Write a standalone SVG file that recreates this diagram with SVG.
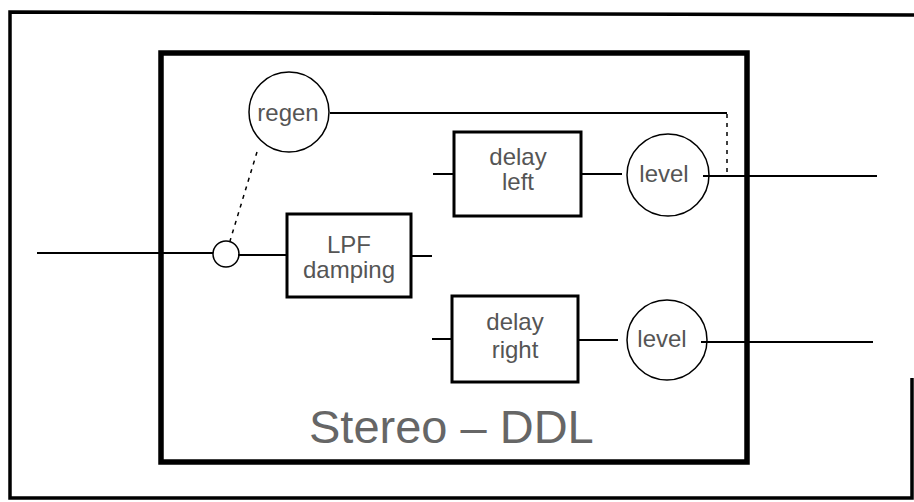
<svg xmlns="http://www.w3.org/2000/svg" width="914" height="502" viewBox="0 0 914 502">
<style>
.box{fill:none;stroke:#000;stroke-width:3}
.circ{fill:none;stroke:#000;stroke-width:1.5}
.wire{fill:none;stroke:#000;stroke-width:2}
.dash{fill:none;stroke:#000;stroke-width:1.5;stroke-dasharray:4 5}
.lbl{font-family:"Liberation Sans",Arial,sans-serif;font-size:24px;fill:#555;text-anchor:middle}
.title{font-family:"Liberation Sans",Arial,sans-serif;font-size:47px;fill:#666}
</style>
<rect width="914" height="502" fill="#fff"/>
<g id="outer-frame">
<path d="M912 378 V498 H10 V12 L914 15" fill="none" stroke="#000" stroke-width="3.5"/>
</g>
<g id="stereo-ddl">
<rect x="161" y="53" width="586" height="409" fill="none" stroke="#000" stroke-width="5.5"/>
<text class="title" x="309" y="443">Stereo – DDL</text>
</g>
<g id="connectors">
<line class="wire" x1="37" y1="253" x2="213" y2="253"/>
<line class="wire" x1="238" y1="255" x2="287" y2="255"/>
<line class="dash" x1="257" y1="152" x2="230" y2="241"/>
<line class="wire" x1="411" y1="256" x2="432" y2="256"/>
<line class="wire" x1="433" y1="174" x2="454" y2="174"/>
<line class="wire" x1="432" y1="339" x2="452" y2="339"/>
<line class="wire" x1="581" y1="174" x2="622" y2="174"/>
<line class="wire" x1="578" y1="340" x2="618" y2="340"/>
<line class="wire" x1="703" y1="176" x2="877" y2="176"/>
<line class="wire" x1="701" y1="342" x2="873" y2="342"/>
<line class="wire" x1="330" y1="113" x2="727" y2="113"/>
<line class="dash" x1="727" y1="114" x2="727" y2="175"/>
</g>
<g id="regen">
<circle class="circ" cx="289" cy="112" r="40"/>
<text class="lbl" x="288" y="121" font-size="23">regen</text>
</g>
<g id="sum">
<circle class="circ" cx="226" cy="254" r="13"/>
</g>
<g id="lpf-damping">
<rect class="box" x="287" y="214" width="124" height="83"/>
<text class="lbl" x="349" y="253">LPF</text>
<text class="lbl" x="349" y="278">damping</text>
</g>
<g id="delay-left">
<rect class="box" x="454" y="132" width="127" height="84"/>
<text class="lbl" x="518" y="165">delay</text>
<text class="lbl" x="518" y="190">left</text>
</g>
<g id="delay-right">
<rect class="box" x="452" y="296" width="126" height="86"/>
<text class="lbl" x="515" y="330">delay</text>
<text class="lbl" x="515" y="358">right</text>
</g>
<g id="level-left">
<circle class="circ" cx="668" cy="175" r="41"/>
<text class="lbl" x="664" y="182" font-size="23">level</text>
</g>
<g id="level-right">
<circle class="circ" cx="667" cy="340" r="40"/>
<text class="lbl" x="662" y="347" font-size="23">level</text>
</g>
</svg>
